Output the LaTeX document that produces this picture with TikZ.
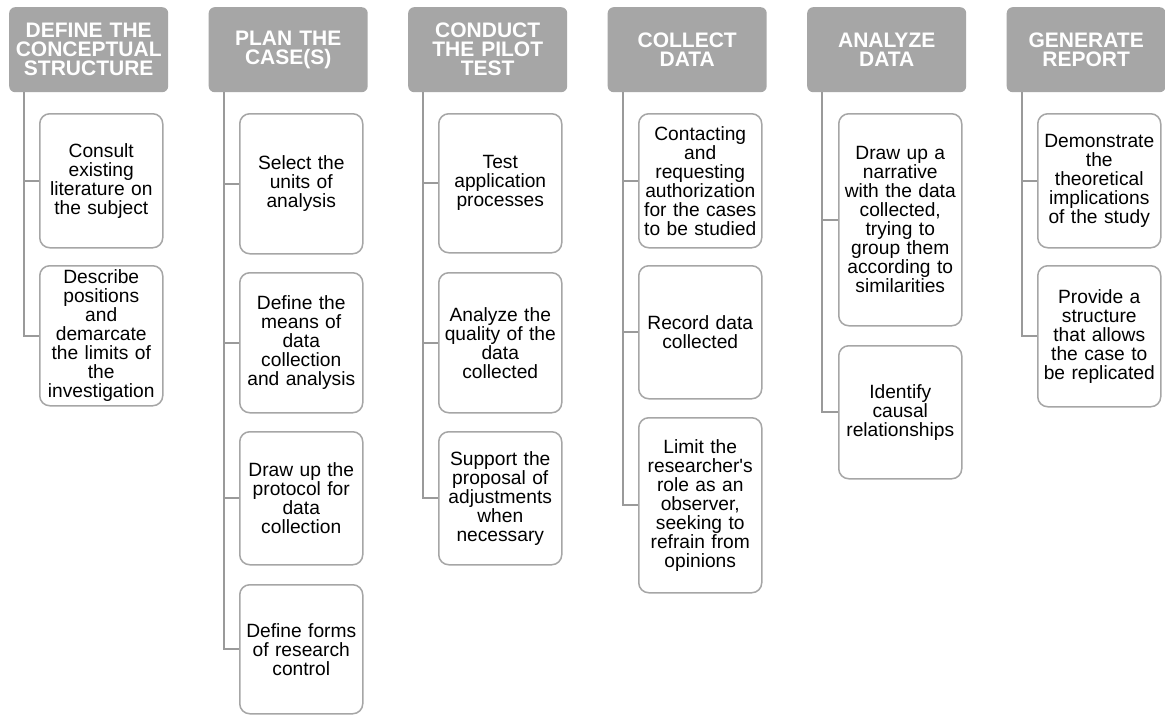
\documentclass[tikz,border=0pt]{standalone}
\usepackage{fontspec}
\setmainfont{Liberation Sans}
\definecolor{headfill}{HTML}{A6A6A6}
\definecolor{boxline}{HTML}{A6A6A6}
\definecolor{linkline}{HTML}{9A9A9A}
\begin{document}
\begin{tikzpicture}[x=1pt,y=-1pt,
  head/.style={rectangle, rounded corners=6pt, fill=headfill, draw=none,
    anchor=north west, minimum width=159pt, minimum height=85pt, inner sep=0pt,
    text width=157pt, align=center, text=white,
    font=\fontsize{21}{19}\selectfont\bfseries},
  item/.style={rectangle, rounded corners=10pt, fill=white, draw=boxline, line width=1.5pt,
    anchor=north west, minimum width=123pt, inner sep=0pt,
    text width=121pt, align=center, text=black,
    font=\fontsize{19.2}{19}\selectfont},
  link/.style={draw=linkline, line width=2pt}
]
\useasboundingbox (0,0) rectangle (1165,715);
\fill[white] (0,0) rectangle (1165,715);

% column 1
\node[head] (h1) at (9,7) {DEFINE THE\\CONCEPTUAL\\STRUCTURE};
\node[item, minimum height=134pt] (c11) at (39,113) {Consult\\existing\\literature on\\the subject};
\node[item, minimum height=140pt] (c12) at (39,265) {Describe\\positions\\and\\demarcate\\the limits of\\the\\investigation};

% column 2
\node[head] (h2) at (208.5,7) {PLAN THE\\CASE(S)};
\node[item, minimum height=140pt] (c21) at (239,113) {Select the\\units of\\analysis};
\node[item, minimum height=140pt] (c22) at (239,272) {Define the\\means of\\data\\collection\\and analysis};
\node[item, minimum height=133pt] (c23) at (239,431) {Draw up the\\protocol for\\data\\collection};
\node[item, minimum height=129pt] (c24) at (239,584) {Define forms\\of research\\control};

% column 3
\node[head] (h3) at (408,7) {CONDUCT\\THE PILOT\\TEST};
\node[item, minimum height=139pt] (c31) at (438,113) {Test\\application\\processes};
\node[item, minimum height=140pt] (c32) at (438,272) {Analyze the\\quality of the\\data\\collected};
\node[item, minimum height=133pt] (c33) at (438,431) {Support the\\proposal of\\adjustments\\when\\necessary};

% column 4
\node[head] (h4) at (607.5,7) {COLLECT\\DATA};
\node[item, minimum height=134pt] (c41) at (638,113) {Contacting\\and\\requesting\\authorization\\for the cases\\to be studied};
\node[item, minimum height=133pt] (c42) at (638,265) {Record data\\collected};
\node[item, minimum height=175pt] (c43) at (638,417) {Limit the\\researcher\textquotesingle s\\role as an\\observer,\\seeking to\\refrain from\\opinions};

% column 5
\node[head] (h5) at (807,7) {ANALYZE\\DATA};
\node[item, minimum height=212pt] (c51) at (838,113) {Draw up a\\narrative\\with the data\\collected,\\trying to\\group them\\according to\\similarities};
\node[item, minimum height=133pt] (c52) at (838,345) {Identify\\causal\\relationships};

% column 6
\node[head] (h6) at (1006.5,7) {GENERATE\\REPORT};
\node[item, minimum height=134pt] (c61) at (1037,113) {Demonstrate\\the\\theoretical\\implications\\of the study};
\node[item, minimum height=141pt] (c62) at (1037,265) {Provide a\\structure\\that allows\\the case to\\be replicated};

% connectors: one spine per header, one branch per item
\foreach \h/\items in {h1/{c11,c12}, h2/{c21,c22,c23,c24}, h3/{c31,c32,c33},
                       h4/{c41,c42,c43}, h5/{c51,c52}, h6/{c61,c62}} {
  \foreach \c in \items {
    \draw[link] ([xshift=15pt]\h.south west) |- (\c.west);
  }
}
\end{tikzpicture}
\end{document}
